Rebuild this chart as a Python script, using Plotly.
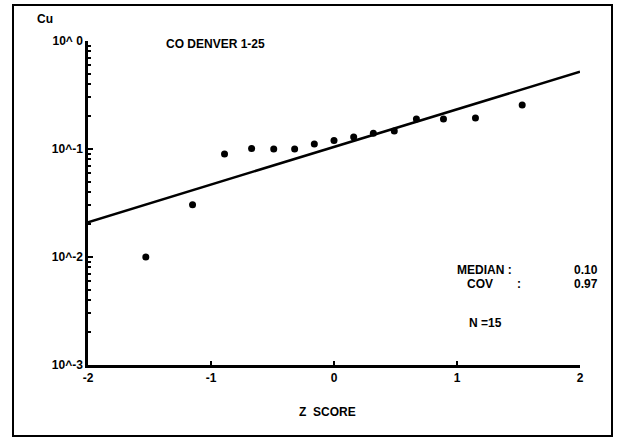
import plotly.graph_objects as go

# ---- data ----
z_score = [-1.53, -1.15, -0.89, -0.67, -0.49, -0.32, -0.16, 0.0,
           0.16, 0.32, 0.49, 0.67, 0.89, 1.15, 1.53]
cu_vals = [0.010, 0.0305, 0.090, 0.101, 0.100, 0.100, 0.111, 0.120,
           0.129, 0.140, 0.147, 0.19, 0.19, 0.194, 0.256]
fit_z = [-2.0, 2.0]
fit_cu = [0.021, 0.52]

y_tickvals = [0.001, 0.01, 0.1, 1.0]
y_ticktext = ["10^-3", "10^-2", "10^-1", "10^ 0"]
x_tickvals = [-2, -1, 0, 1, 2]
x_ticktext = ["-2", "-1", "0", "1", "2"]

title_text = "CO DENVER 1-25"
y_label = "Cu"
x_label = "Z  SCORE"
stats_labels = ["MEDIAN :", "COV", ":"]
median_text = "0.10"
cov_text = "0.97"
n_text = "N =15"

# ---- layout helpers (pixel -> paper) ----
W, H = 619, 439
L, R, T, B = 88, 39, 41, 74
PW, PH = W - L - R, H - T - B


def px(x):
    return (x - L) / PW


def py(y):
    return (H - B - y) / PH


FONT = "Liberation Sans Narrow, Liberation Sans, Arial"

fig = go.Figure()
fig.add_trace(go.Scatter(x=fit_z, y=fit_cu, mode="lines",
                         line=dict(color="black", width=2.5),
                         showlegend=False, hoverinfo="skip"))
fig.add_trace(go.Scatter(x=z_score, y=cu_vals, mode="markers",
                         marker=dict(color="black", size=7),
                         showlegend=False))

fig.update_xaxes(range=[-2, 2], tickvals=x_tickvals,
                 ticktext=["<b>%s</b>" % t for t in x_ticktext],
                 showgrid=False, zeroline=False, showline=True,
                 linecolor="black", linewidth=2.5, ticks="inside",
                 ticklen=4, tickwidth=2, tickcolor="black",
                 tickfont=dict(family=FONT, size=12, color="black"))
fig.update_yaxes(type="log", range=[-3, 0], tickvals=y_tickvals,
                 ticktext=["<b>%s</b>" % t for t in y_ticktext],
                 showgrid=False, zeroline=False,
                 showline=True, linecolor="black", linewidth=2.5,
                 ticks="inside", ticklen=5, tickwidth=2, tickcolor="black",
                 minor=dict(dtick="D1", ticks="inside", ticklen=3,
                            tickwidth=2, tickcolor="black", showgrid=False),
                 tickfont=dict(family=FONT, size=12, color="black"))

ann = []


def add(text, x, y, xanchor="center", size=12):
    ann.append(dict(text="<b>%s</b>" % text, x=px(x), y=py(y),
                    xref="paper", yref="paper", showarrow=False,
                    xanchor=xanchor, yanchor="middle",
                    font=dict(family=FONT, size=size, color="black")))


add(y_label, 45, 19)
add(title_text, 215, 44)
add(stats_labels[0], 455, 270, "left")
add(median_text, 600, 270, "right")
add(stats_labels[1], 465, 284, "left")
add(stats_labels[2], 519, 284, "center")
add(cov_text, 600, 284, "right")
add(n_text, 467, 323, "left")
add(x_label, 327, 412)

fig.update_layout(
    width=W, height=H,
    margin=dict(l=L, r=R, t=T, b=B),
    paper_bgcolor="white", plot_bgcolor="white",
    annotations=ann,
    shapes=[dict(type="rect", xref="paper", yref="paper",
                 x0=px(13), x1=px(612), y0=py(436), y1=py(5),
                 line=dict(color="black", width=2))],
)

fig.write_html("out.html")
